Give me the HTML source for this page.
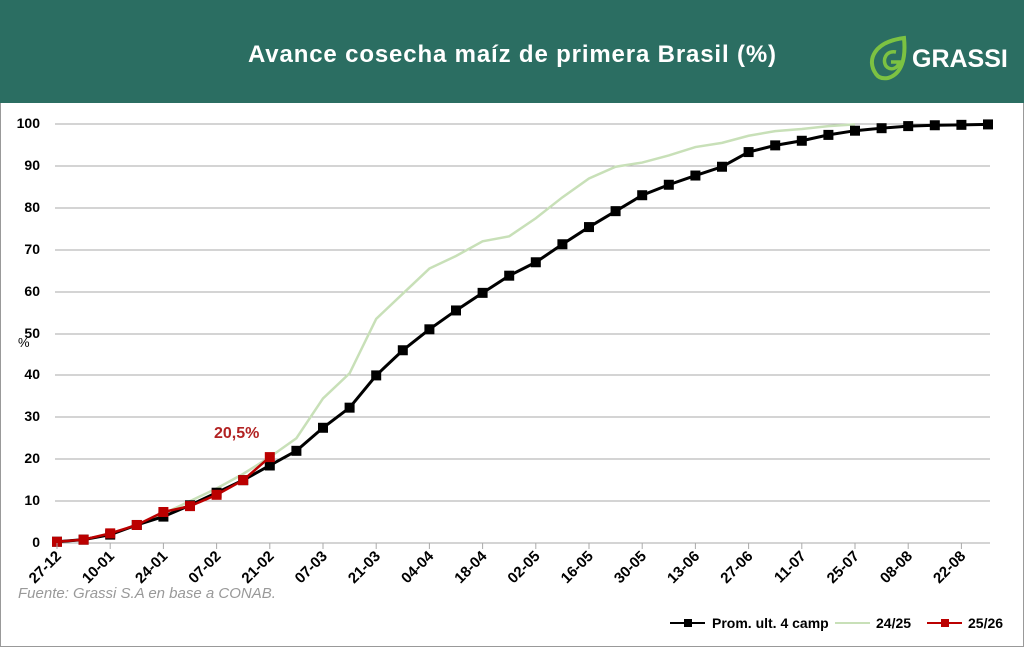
<!DOCTYPE html>
<html><head><meta charset="utf-8"><style>
body{margin:0;width:1024px;height:647px;background:#fff;overflow:hidden;font-family:"Liberation Sans",sans-serif}
</style></head><body>
<svg width="1024" height="647" xmlns="http://www.w3.org/2000/svg" font-family="Liberation Sans, sans-serif">
<rect x="0.5" y="0.5" width="1023" height="646" fill="#fff" stroke="#999"/>
<rect x="0" y="0" width="1024" height="103" fill="#2b6e62"/>
<text x="512" y="62" text-anchor="middle" fill="#fff" font-size="24" font-weight="bold" textLength="528">Avance cosecha maíz de primera Brasil (%)</text>
<g transform="translate(872,36)">
<path d="M4,38 C-6,24 2,6 32,2 C34,22 30,38 16,42 C10,43 6,41 4,38Z" fill="none" stroke="#7cc242" stroke-width="4"/>
<path d="M24,16 C14,14 10,24 14,30 C18,35 26,33 27,26 L19,26" fill="none" stroke="#7cc242" stroke-width="3.5"/>
</g>
<text x="912" y="67" fill="#fff" font-size="25" font-weight="bold">GRASSI</text>
<g stroke="#aaa" stroke-width="1">
<line x1="55" y1="124" x2="990" y2="124"/><line x1="55" y1="166" x2="990" y2="166"/><line x1="55" y1="208" x2="990" y2="208"/><line x1="55" y1="250" x2="990" y2="250"/><line x1="55" y1="292" x2="990" y2="292"/><line x1="55" y1="334" x2="990" y2="334"/><line x1="55" y1="375" x2="990" y2="375"/><line x1="55" y1="417" x2="990" y2="417"/><line x1="55" y1="459" x2="990" y2="459"/><line x1="55" y1="501" x2="990" y2="501"/><line x1="55" y1="543" x2="990" y2="543"/>
</g>
<g font-size="14" font-weight="bold" fill="#000" text-anchor="end">
<text x="40" y="128">100</text><text x="40" y="170">90</text><text x="40" y="212">80</text><text x="40" y="254">70</text><text x="40" y="296">60</text><text x="40" y="338">50</text><text x="40" y="379">40</text><text x="40" y="421">30</text><text x="40" y="463">20</text><text x="40" y="505">10</text><text x="40" y="547">0</text>
</g>
<text x="18" y="347" font-size="13" fill="#000">%</text>
<g id="xl" font-size="15" font-weight="bold" fill="#000"></g>
<g id="ser"></g>
<text x="214" y="438" font-size="16" font-weight="bold" fill="#b22222">20,5%</text>
<text x="18" y="598" font-size="15" font-style="italic" fill="#999">Fuente: Grassi S.A en base a CONAB.</text>
<g font-size="14" font-weight="bold" fill="#000">
<line x1="670" y1="623" x2="705" y2="623" stroke="#000" stroke-width="2"/><rect x="684" y="619" width="8" height="8" fill="#000"/>
<text x="712" y="628">Prom. ult. 4 camp</text>
<line x1="835" y1="623" x2="870" y2="623" stroke="#c8e0b8" stroke-width="2"/>
<text x="876" y="628">24/25</text>
<line x1="927" y1="623" x2="962" y2="623" stroke="#b00" stroke-width="2"/><rect x="941" y="619" width="8" height="8" fill="#b00"/>
<text x="968" y="628">25/26</text>
</g>
</svg>
<script>
const X=i=>57+i*26.6, Y=v=>543-v*4.19;
const b=[0.3,0.8,2,4.3,6.3,9,12,15,18.5,22,27.5,32.3,40,46,51,55.5,59.7,63.8,67,71.3,75.4,79.2,83,85.5,87.7,89.8,93.3,94.9,96,97.4,98.4,99,99.5,99.7,99.8,99.9];
const g=[0.3,0.8,2.2,4.2,7,10,13,16.5,20.5,25,34.5,40.5,53.5,59.5,65.5,68.5,72,73.2,77.5,82.5,87,89.8,90.8,92.5,94.5,95.5,97.2,98.3,98.8,99.5,99.9];
const r=[0.3,0.8,2.3,4.3,7.4,8.8,11.5,15,20.5];
const ns="http://www.w3.org/2000/svg";
const s=document.getElementById('ser');
function line(d,c,w,m){const p=document.createElementNS(ns,'polyline');p.setAttribute('points',d.map((v,i)=>X(i)+','+Y(v)).join(' '));p.setAttribute('fill','none');p.setAttribute('stroke',c);p.setAttribute('stroke-width',w);s.appendChild(p);
if(m)d.forEach((v,i)=>{const q=document.createElementNS(ns,'rect');q.setAttribute('x',X(i)-5);q.setAttribute('y',Y(v)-5);q.setAttribute('width',10);q.setAttribute('height',10);q.setAttribute('fill',c);s.appendChild(q);});}
line(g,'#c8e0b8',2.5,false);line(b,'#000',3,true);line(r,'#b00',2.5,true);
const labs=['27-12','10-01','24-01','07-02','21-02','07-03','21-03','04-04','18-04','02-05','16-05','30-05','13-06','27-06','11-07','25-07','08-08','22-08'];
const xl=document.getElementById('xl');
labs.forEach((l,k)=>{const x=57+k*53.2;const tk=document.createElementNS(ns,'line');tk.setAttribute('x1',x);tk.setAttribute('x2',x);tk.setAttribute('y1',543);tk.setAttribute('y2',549);tk.setAttribute('stroke','#aaa');s.appendChild(tk);
const t=document.createElementNS(ns,'text');t.setAttribute('text-anchor','end');t.setAttribute('transform','translate('+(x+5)+',557) rotate(-45)');t.textContent=l;xl.appendChild(t);});
</script>
</body></html>
